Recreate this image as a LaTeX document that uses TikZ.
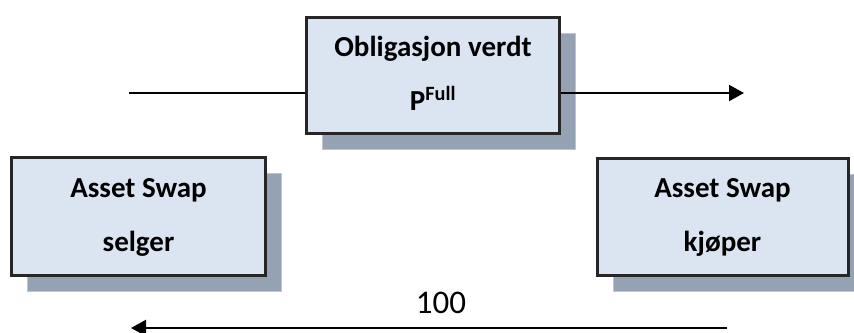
\documentclass[tikz,border=0pt]{standalone}
\usepackage{fontspec}
\setmainfont{Carlito}
\usetikzlibrary{arrows.meta,shadows}

\definecolor{boxblue}{HTML}{DBE5F1}
\definecolor{boxedge}{HTML}{262626}
\definecolor{shadowgray}{HTML}{95A2B3}
\definecolor{shadowedge}{HTML}{BCC5D0}

\tikzset{
  tradebox/.style={draw=boxedge, fill=boxblue, line width=3pt,
    align=center, font=\fontsize{29}{54}\selectfont\bfseries,
    text height=76pt, text depth=7pt, inner sep=0pt,
    drop shadow={shadow xshift=16pt, shadow yshift=-16pt,
      fill=shadowgray, draw=shadowedge, line width=1pt, opacity=1}},
  flow/.style={line width=2.2pt, -{Triangle[length=15pt,width=16pt]}}
}

\begin{document}
\begin{tikzpicture}
  \useasboundingbox (0pt,0pt) rectangle (854pt,-332pt);

  \node[tradebox, minimum width=253pt, minimum height=116pt]
    (bond) at (433pt,-75.5pt) {Obligasjon verdt\\P\textsuperscript{Full}};
  \node[tradebox, minimum width=254pt, minimum height=118pt]
    (seller) at (138.5pt,-216.5pt) {Asset Swap\\selger};
  \node[tradebox, minimum width=251pt, minimum height=117pt]
    (buyer) at (722.5pt,-217pt) {Asset Swap\\kjøper};

  \coordinate (bondin)  at (129pt,-93pt);
  \coordinate (bondout) at (744pt,-93pt);
  \coordinate (payfrom) at (727pt,-328pt);
  \coordinate (payto)   at (131pt,-328pt);

  \draw[line width=2.2pt] (bondin) -- (bondin -| bond.west); %% in to bond
  \draw[flow] (bondout -| bond.east) -- (bondout);            %% bond out
  \draw[flow] (payfrom) -- (payto)
    node[pos=0.48, above=13pt, inner sep=0pt, font=\fontsize{33}{38}\selectfont]
    (payment) {100};                                           %% payment
\end{tikzpicture}
\end{document}
